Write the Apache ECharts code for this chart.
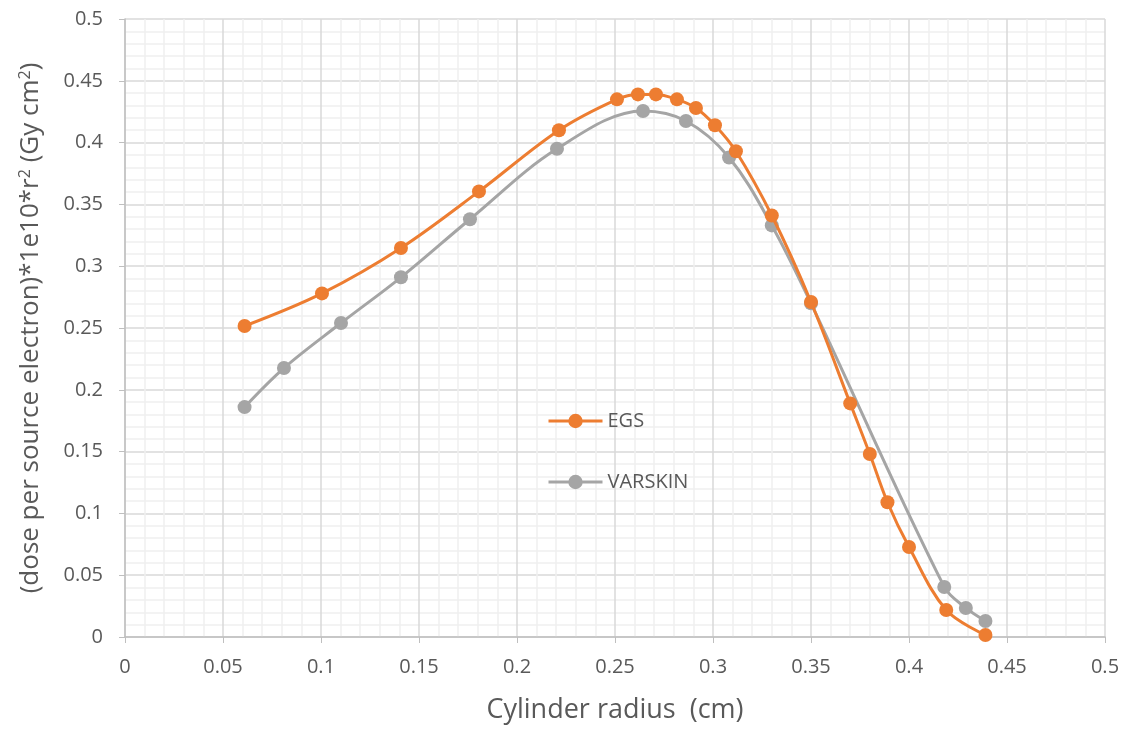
<!DOCTYPE html>
<html>
<head>
<meta charset="utf-8">
<script src="https://cdn.jsdelivr.net/npm/echarts@6/dist/echarts.min.js"></script>
<style>
  html, body { margin: 0; padding: 0; background: #fff; }
  #chart { width: 1128px; height: 731px; }
</style>
</head>
<body>
<div id="chart"></div>
<script>
// Cylinder radius (cm) and normalised dose for each code
const egsRadius = [0.061, 0.1005, 0.1408, 0.1806, 0.2214, 0.251, 0.2617, 0.2709, 0.2816, 0.2913, 0.301, 0.3117, 0.330, 0.350, 0.370, 0.380, 0.389, 0.400, 0.419, 0.439];
const egsDose   = [0.2516, 0.278, 0.3147, 0.3605, 0.410, 0.435, 0.439, 0.439, 0.435, 0.428, 0.414, 0.393, 0.341, 0.271, 0.189, 0.148, 0.109, 0.0728, 0.0218, 0.0016];

const varskinRadius = [0.061, 0.0811, 0.1102, 0.1408, 0.176, 0.2204, 0.2643, 0.2862, 0.3082, 0.330, 0.350, 0.418, 0.429, 0.439];
const varskinDose   = [0.186, 0.2176, 0.254, 0.291, 0.338, 0.395, 0.4256, 0.4175, 0.388, 0.333, 0.270, 0.0405, 0.0235, 0.0129];

const axisMin = 0, axisMax = 0.5, axisStep = 0.05;

const pairs = (xs, ys) => xs.map((x, i) => [x, ys[i]]);
const fmt = v => (v === 0 ? '0' : String(+v.toFixed(2)));

const font = '"Open Sans", "Liberation Sans", sans-serif';
const textColor = '#595959';

const valueAxis = (extra) => Object.assign({
  type: 'value',
  min: axisMin,
  max: axisMax,
  interval: axisStep,
  axisLine: { show: true, lineStyle: { color: '#bfbfbf', width: 1.5 } },
  axisTick: { show: true, length: 6, lineStyle: { color: '#bfbfbf' } },
  splitLine: { show: true, lineStyle: { color: '#d9d9d9', width: 1.5 } },
  minorTick: { show: false, splitNumber: 5 },
  minorSplitLine: { show: true, lineStyle: { color: '#efefef', width: 1.5 } }
}, extra);

const chart = echarts.init(document.getElementById('chart'));
chart.setOption({
  backgroundColor: '#ffffff',
  animation: false,
  grid: { left: 125, right: 23, top: 19, bottom: 94, containLabel: false },
  legend: {
    orient: 'vertical',
    left: 542,
    top: 406,
    itemWidth: 54,
    itemHeight: 18,
    itemGap: 41,
    lineStyle: { width: 3 },
    textStyle: { color: textColor, fontSize: 20, lineHeight: 20, fontFamily: font },
    data: ['EGS', 'VARSKIN']
  },
  xAxis: valueAxis({
    name: 'Cylinder radius  (cm)',
    nameLocation: 'middle',
    nameGap: 60,
    nameTextStyle: { color: textColor, fontSize: 27, fontFamily: font },
    axisLabel: { color: textColor, fontSize: 20, fontFamily: font, formatter: fmt, margin: 20 }
  }),
  yAxis: valueAxis({
    name: '(dose per source electron)*1e10*r{sup|2} (Gy cm{sup|2})',
    nameLocation: 'middle',
    nameGap: 80,
    nameTextStyle: {
      color: textColor, fontSize: 26, fontFamily: font,
      rich: { sup: { fontSize: 16, verticalAlign: 'top', color: textColor, fontFamily: font, padding: [0, 0, 12, 0] } }
    },
    axisLabel: { color: textColor, fontSize: 20, fontFamily: font, formatter: fmt, margin: 22 }
  }),
  series: [
    {
      name: 'EGS',
      type: 'line',
      smooth: 0.35,
      data: pairs(egsRadius, egsDose),
      symbol: 'circle',
      symbolSize: 14,
      lineStyle: { color: '#ED7D31', width: 3 },
      itemStyle: { color: '#ED7D31' },
      z: 3
    },
    {
      name: 'VARSKIN',
      type: 'line',
      smooth: 0.35,
      data: pairs(varskinRadius, varskinDose),
      symbol: 'circle',
      symbolSize: 14,
      lineStyle: { color: '#A5A5A5', width: 3 },
      itemStyle: { color: '#A5A5A5' },
      z: 2
    }
  ]
});
</script>
</body>
</html>
